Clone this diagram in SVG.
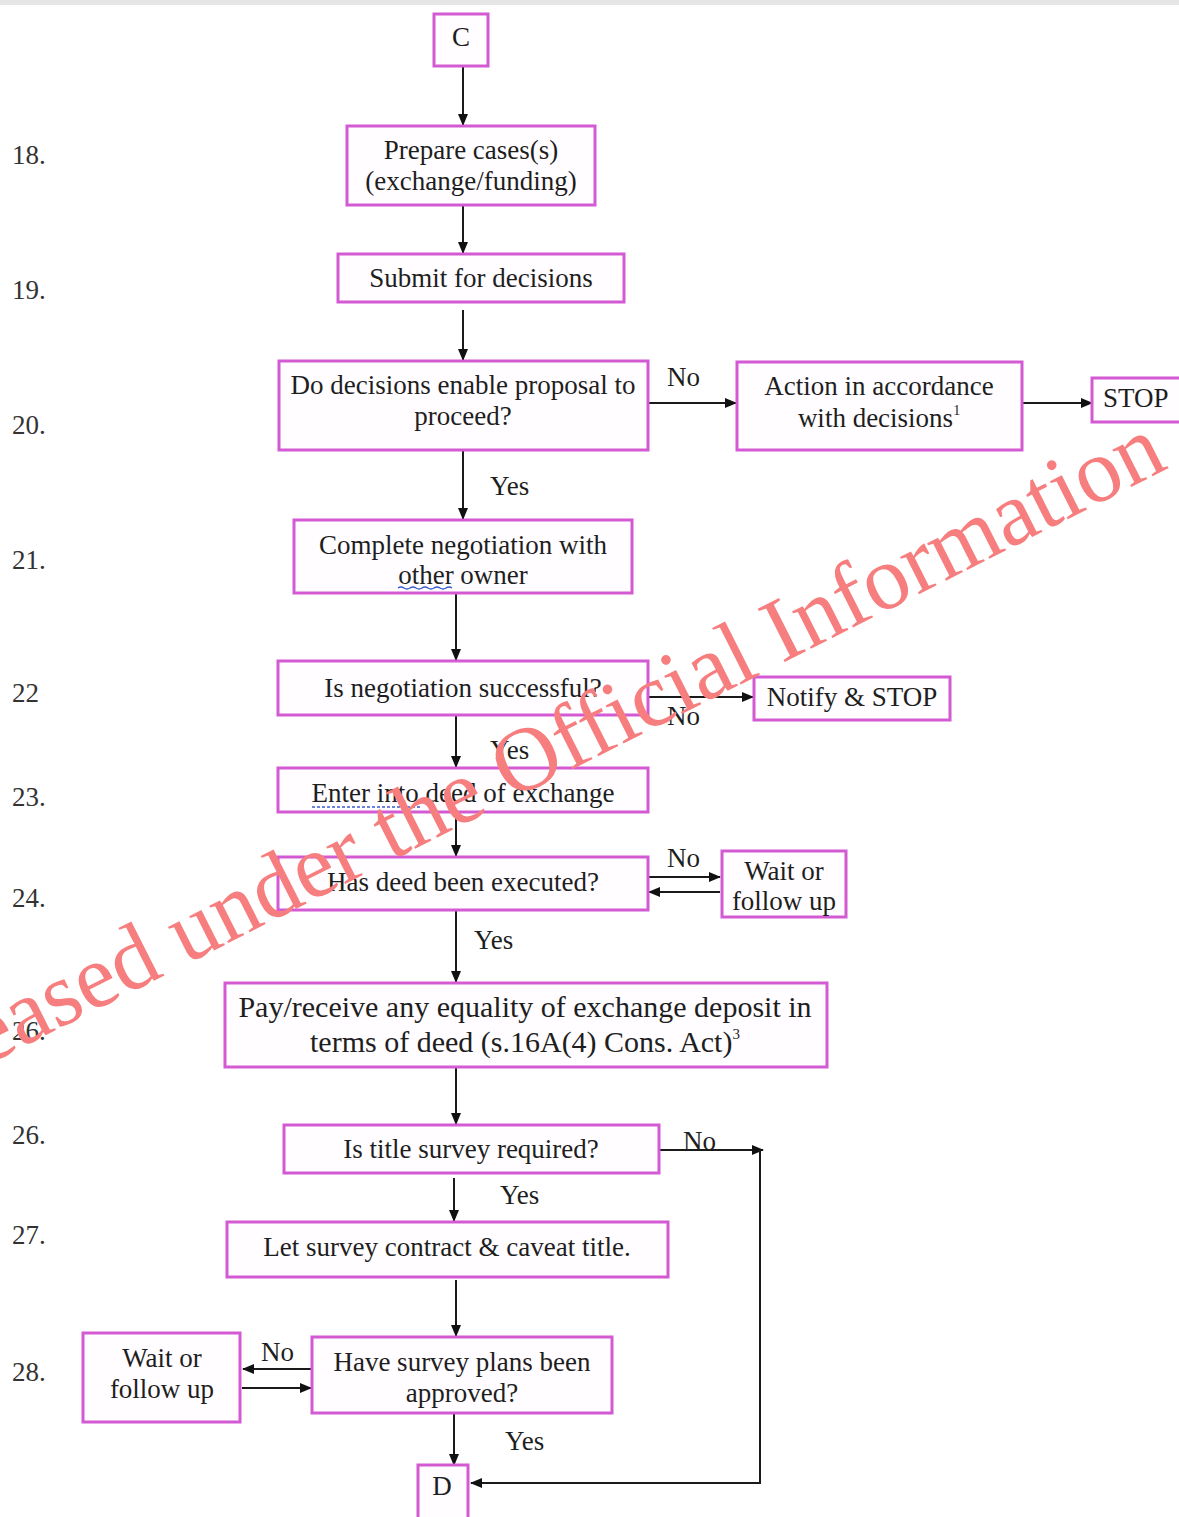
<svg xmlns="http://www.w3.org/2000/svg" width="1179" height="1517" viewBox="0 0 1179 1517">
<defs>
<marker id="ah" markerWidth="12" markerHeight="10" refX="11" refY="5" orient="auto" markerUnits="userSpaceOnUse">
<path d="M0,0 L12,5 L0,10 z" fill="#111"/>
</marker>
<style>
.box{fill:#fffdff;stroke:#d35ad3;stroke-width:3}
.t{font-family:"Liberation Serif","Times New Roman",serif;font-size:27px;fill:#1e1e1e;text-anchor:middle}
.lbl{font-family:"Liberation Serif","Times New Roman",serif;font-size:27px;fill:#1e1e1e}
.num{font-family:"Liberation Serif","Times New Roman",serif;font-size:27px;fill:#333}
.c{fill:none;stroke:#1a1a1a;stroke-width:2}
.a{fill:none;stroke:#1a1a1a;stroke-width:2;marker-end:url(#ah)}
.wm{font-family:"Liberation Serif","Times New Roman",serif;font-size:91px;fill:#f77e7e}
</style>
</defs>
<rect x="0" y="0" width="1179" height="1517" fill="#ffffff"/>
<rect x="0" y="0" width="1179" height="5" fill="#e6e6e6"/>

<g id="numbers">
<text class="num" x="12" y="164">18.</text>
<text class="num" x="12" y="299">19.</text>
<text class="num" x="12" y="434">20.</text>
<text class="num" x="12" y="569">21.</text>
<text class="num" x="12" y="702">22</text>
<text class="num" x="12" y="806">23.</text>
<text class="num" x="12" y="907">24.</text>
<text class="num" x="12" y="1040">26.</text>
<text class="num" x="12" y="1144">26.</text>
<text class="num" x="12" y="1244">27.</text>
<text class="num" x="12" y="1381">28.</text>
</g>

<g id="connectors">
<line class="a" x1="463" y1="66" x2="463" y2="125"/>
<line class="a" x1="463" y1="205" x2="463" y2="253"/>
<line class="a" x1="463" y1="310" x2="463" y2="360"/>
<line class="a" x1="648" y1="403" x2="736" y2="403"/>
<line class="a" x1="1022" y1="403" x2="1092" y2="403"/>
<line class="a" x1="463" y1="450" x2="463" y2="519"/>
<line class="a" x1="456" y1="593" x2="456" y2="660"/>
<line class="a" x1="648" y1="697" x2="753" y2="697"/>
<line class="a" x1="456" y1="715" x2="456" y2="767"/>
<line class="a" x1="456" y1="812" x2="456" y2="856"/>
<line class="a" x1="648" y1="877" x2="720" y2="877"/>
<line class="a" x1="720" y1="892" x2="649" y2="892"/>
<line class="a" x1="456" y1="910" x2="456" y2="982"/>
<line class="a" x1="456" y1="1067" x2="456" y2="1124"/>
<line class="a" x1="659" y1="1150" x2="763" y2="1150"/>
<polyline class="a" points="760,1150 760,1483 471,1483"/>
<line class="a" x1="454" y1="1178" x2="454" y2="1221"/>
<line class="a" x1="456" y1="1280" x2="456" y2="1336"/>
<line class="a" x1="312" y1="1369" x2="243" y2="1369"/>
<line class="a" x1="242" y1="1388" x2="311" y2="1388"/>
<line class="a" x1="454" y1="1413" x2="454" y2="1465"/>
<text class="lbl" x="667" y="386">No</text>
<text class="lbl" x="490" y="495">Yes</text>
<text class="lbl" x="667" y="725">No</text>
<text class="lbl" x="490" y="759">Yes</text>
<text class="lbl" x="667" y="867">No</text>
<text class="lbl" x="474" y="949">Yes</text>
<text class="lbl" x="683" y="1150">No</text>
<text class="lbl" x="500" y="1204">Yes</text>
<text class="lbl" x="261" y="1361">No</text>
<text class="lbl" x="505" y="1450">Yes</text>
</g>

<g id="nC"><rect class="box" x="434" y="14" width="54" height="52"/><text class="t" x="461" y="46">C</text></g>
<g id="n18"><rect class="box" x="347" y="126" width="248" height="79"/><text class="t" x="471" y="159">Prepare cases(s)</text><text class="t" x="471" y="190">(exchange/funding)</text></g>
<g id="n19"><rect class="box" x="338" y="254" width="286" height="48"/><text class="t" x="481" y="287">Submit for decisions</text></g>
<g id="n20"><rect class="box" x="279" y="361" width="369" height="89"/><text class="t" x="463" y="394">Do decisions enable proposal to</text><text class="t" x="463" y="425">proceed?</text></g>
<g id="nAction"><rect class="box" x="737" y="362" width="285" height="88"/><text class="t" x="879" y="395">Action in accordance</text><text class="t" x="879" y="427">with decisions<tspan font-size="14" dy="-12">1</tspan></text></g>
<g id="nStop"><rect class="box" x="1092" y="378" width="92" height="44"/><text class="t" x="1103" y="407" style="text-anchor:start">STOP</text></g>
<g id="n21"><rect class="box" x="294" y="520" width="338" height="73"/><text class="t" x="463" y="554">Complete negotiation with</text><text class="t" x="463" y="584">other owner</text><path d="M398,588 q3,-2 6,0 t6,0 t6,0 t6,0 t6,0 t6,0 t6,0 t6,0 t6,0" fill="none" stroke="#3a5bd0" stroke-width="1.5"/></g>
<g id="n22"><rect class="box" x="278" y="661" width="370" height="54"/><text class="t" x="463" y="697">Is negotiation successful?</text></g>
<g id="nNotify"><rect class="box" x="754" y="677" width="196" height="43"/><text class="t" x="852" y="706">Notify &amp; STOP</text></g>
<g id="n23"><rect class="box" x="278" y="768" width="370" height="44"/><text class="t" x="463" y="802">Enter into deed of exchange</text><line x1="312" y1="807" x2="420" y2="807" stroke="#3a5bd0" stroke-width="1.5" stroke-dasharray="3,2"/></g>
<g id="n24"><rect class="box" x="278" y="857" width="370" height="53"/><text class="t" x="463" y="891">Has deed been executed?</text></g>
<g id="nWait1"><rect class="box" x="722" y="851" width="124" height="66"/><text class="t" x="784" y="880">Wait or</text><text class="t" x="784" y="910">follow up</text></g>
<g id="n25"><rect class="box" x="225" y="983" width="602" height="84"/><text class="t" x="525" y="1017" style="font-size:30px">Pay/receive any equality of exchange deposit in</text><text class="t" x="525" y="1052" style="font-size:30px">terms of deed (s.16A(4) Cons. Act)<tspan font-size="15" dy="-13">3</tspan></text></g>
<g id="n26"><rect class="box" x="284" y="1125" width="375" height="48"/><text class="t" x="471" y="1158">Is title survey required?</text></g>
<g id="n27"><rect class="box" x="227" y="1222" width="441" height="55"/><text class="t" x="447" y="1256">Let survey contract &amp; caveat title.</text></g>
<g id="n28"><rect class="box" x="312" y="1337" width="300" height="76"/><text class="t" x="462" y="1371">Have survey plans been</text><text class="t" x="462" y="1402">approved?</text></g>
<g id="nWait2"><rect class="box" x="83" y="1333" width="157" height="89"/><text class="t" x="162" y="1367">Wait or</text><text class="t" x="162" y="1398">follow up</text></g>
<g id="nD"><rect class="box" x="418" y="1465" width="50" height="60"/><text class="t" x="442" y="1495">D</text></g>

<text class="wm" transform="translate(-15,1066) rotate(-26.8)">eased under the Official Information</text>
</svg>
